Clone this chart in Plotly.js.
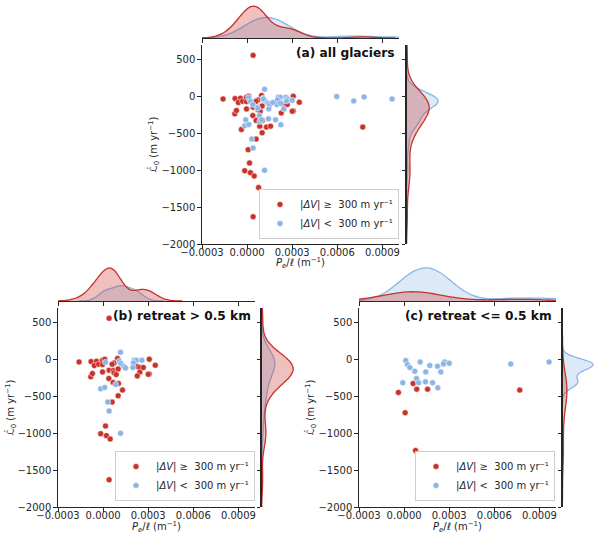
<!DOCTYPE html>
<html>
<head>
<meta charset="utf-8">
<script src="https://cdn.plot.ly/plotly-3.0.1.min.js"></script>
<style>html,body{margin:0;padding:0;background:#fff}</style>
</head>
<body>
<div id="chart" style="width:600px;height:543px"></div>
<script>
// (b) retreat > 0.5 km
const bRedX = [0.00004, -0.00016, -0.00008, -0.000044, -0.000058, -0.00003, -0.000004, 0.000011, -0.000004,
  -0.000082, -0.000071, -0.000004, 0.00004, 0.000067, 0.000038, 0.000073, 0.000096, 0.000073, 0.00006,
  0.000087, 0.0001, 0.000102, 0.000067, 0.000129, 0.0001, 0.00006, 0.000016, -0.000016, 0.000022, 0.000047,
  0.00004, 0.000222, 0.000244, 0.000267, 0.000244, 0.000227, 0.000307, 0.000347, 0.000307, 0.0003]
const bRedY = [560, -32, -27, -23, -81, -63, -9, 5, -68,
  -234, -189, -167, -144, -149, -257, -180, 14, -45, -63,
  -203, -126, -324, -311, -414, -491, -577, -901, -1005, -1032, -1077,
  -1631, -90, -108, -108, -171, -221, 5, -77, -194, -200]
const bBlueX = [0.000116, 0.000107, 0.000118, 0.000138, 0.000149, 0.000207, 0.000222, 0.000258, 0.000202,
  0.000198, -0.000016, 0.000011, 0.000084, 0.000031, 0.00004, 0.000116, 0.000016]
const bBlueY = [99, -23, -54, -90, -113, -9, -9, -9, -45,
  -108, -396, -378, -338, -577, -698, -1000, -36]

// (c) retreat <= 0.5 km
const cRedX = [-0.000038, 0.000007, 0.00006, 0.000084, 0.000156, 0.000076, 0.000769]
const cRedY = [-446, -721, -324, -401, -401, -1234, -414]
const cBlueX = [0.000011, 0.000022, 0.000038, 0.000107, 0.000071, 0.000171, 0.000144, 0.000082, 0.000096,
  -0.000009, 0.000142, 0.000189, 0.000222, 0.000269, 0.000262, 0.0003, 0.000244, 0.000224, 0.000709, 0.000964]
const cBlueY = [-14, -68, -108, -32, -158, -81, -167, -257, -315,
  -315, -302, -315, -90, -32, -59, -50, -167, -383, -59, -32]

// glaciers only in (a)
const aExtraBlueX = [0.000596, 0.000778]
const aExtraBlueY = [0, -5]

const xTicks = [-0.0003, 0, 0.0003, 0.0006, 0.0009]
const yTicks = [-2000, -1500, -1000, -500, 0, 500]
const redLabel = "|<i>ΔV</i>| ≥\u00a0 300 m yr⁻¹"
const blueLabel = "|<i>ΔV</i>| <\u00a0 300 m yr⁻¹"

const RED = "#c8322b"
const BLUE = "#8cb5e5"
const RED_FILL = "rgba(200,50,43,0.3)"
const BLUE_FILL = "rgba(140,181,229,0.3)"
const INK = "#262626"
const FONT = "DejaVu Sans"
const W = 600, H = 543
const XRANGE = [-0.0003, 0.00101]
const YRANGE = [-2000, 700]
const HALF = 0.5 // one-sided violin half width (data units) with violingap 0

const px = (p) => p / W
const py = (p) => 1 - p / H

const panels = [
  { title: "(a) all glaciers", red: [bRedX.concat(cRedX), bRedY.concat(cRedY)],
    blue: [bBlueX.concat(cBlueX, aExtraBlueX), bBlueY.concat(cBlueY, aExtraBlueY)],
    box: [202, 399, 45, 244], top: [0, 38], right: [406.5, 445.5], legend: "legend", leg: [259, 239],
    ytitleX: 154, xtitleY: 263, topFrac: 0.84, rightFrac: 0.81 },
  { title: "(b) retreat > 0.5 km", red: [bRedX, bRedY], blue: [bBlueX, bBlueY],
    box: [58, 255, 308, 507], top: [263, 301], right: [261.5, 300.5], legend: "legend2", leg: [115, 501],
    ytitleX: 11, xtitleY: 527, topFrac: 0.87, rightFrac: 0.81 },
  { title: "(c) retreat <= 0.5 km", red: [cRedX, cRedY], blue: [cBlueX, cBlueY],
    box: [359, 556, 308, 507], top: [263, 301], right: [562.5, 600], legend: "legend3", leg: [415, 501],
    ytitleX: 311, xtitleY: 527, topFrac: 0.87, rightFrac: 0.78 },
]

function scottBw(v) {
  const n = v.length
  const m = v.reduce((s, a) => s + a, 0) / n
  const sd = Math.sqrt(v.reduce((s, a) => s + (a - m) ** 2, 0) / (n - 1))
  return sd * Math.pow(n, -0.2)
}

// peak of the gaussian density, only used to size the marginal axes
function kdePeak(v) {
  const bw = scottBw(v)
  const lo = Math.min(...v) - 3 * bw, hi = Math.max(...v) + 3 * bw
  let best = 0
  for (let k = 0; k <= 500; k++) {
    const x = lo + (hi - lo) * k / 500
    let s = 0
    for (const a of v) { const u = (x - a) / bw; s += Math.exp(-0.5 * u * u) }
    best = Math.max(best, s / (v.length * bw * Math.sqrt(2 * Math.PI)))
  }
  return best
}

// tallest drawn curve (fraction of HALF) for violins scaled by count in one group
function tallest(sets) {
  const m = sets.map(kdePeak)
  const n = sets.map((v) => v.length)
  return Math.max(...m.map((mi, i) => mi * n[i])) / (Math.max(...m) * Math.max(...n))
}

function kde(vals, color, fill, axX, axY, horizontal, group) {
  const bw = scottBw(vals)
  const lo = Math.min(...vals) - 3 * bw
  const hi = Math.max(...vals) + 3 * bw
  const t = {
    type: "violin", side: "positive", points: false,
    box: { visible: false }, meanline: { visible: false },
    line: { color: color, width: 1.3 }, fillcolor: fill,
    bandwidth: bw, spanmode: "manual", span: [lo, hi],
    scalemode: "count", scalegroup: group,
    xaxis: axX, yaxis: axY, showlegend: false, hoverinfo: "skip",
  }
  if (horizontal) { t.orientation = "h"; t.x = vals; t.y0 = 0 }
  else { t.orientation = "v"; t.y = vals; t.x0 = 0 }
  return t
}

const data = []
const layout = {
  width: W, height: H, margin: { l: 0, r: 0, t: 0, b: 0 },
  paper_bgcolor: "#fff", plot_bgcolor: "rgba(0,0,0,0)",
  font: { family: FONT, size: 10, color: INK },
  violinmode: "overlay", violingap: 0, violingroupgap: 0,
  annotations: [],
}

const lineAxis = { showline: true, linecolor: INK, linewidth: 1.2, ticks: "outside", ticklen: 3.5,
  tickcolor: INK, tickwidth: 1, showgrid: false, zeroline: false, tickfont: { size: 10, color: INK } }

panels.forEach((p, i) => {
  const n = i + 1, nt = i + 4, nr = i + 7
  const [l, r, t, b] = p.box
  const xd = [px(l), px(r)], yd = [py(b), py(t)]
  const rightW = p.right[1] - p.right[0]
  const topMax = HALF * tallest([p.red[0], p.blue[0]]) / p.topFrac
  const rightMax = HALF * tallest([p.red[1], p.blue[1]]) / p.rightFrac * rightW / 39

  layout["xaxis" + n] = Object.assign({}, lineAxis, { domain: xd, range: XRANGE, anchor: "y" + n,
    tickvals: xTicks, tickformat: ".4f", ticklabelstandoff: -5 })
  layout["yaxis" + n] = Object.assign({}, lineAxis, { domain: yd, range: YRANGE, anchor: "x" + n,
    tickvals: yTicks })
  layout["xaxis" + nt] = Object.assign({}, lineAxis, { domain: xd, range: XRANGE, anchor: "y" + nt,
    tickvals: xTicks, showticklabels: false })
  layout["yaxis" + nt] = { domain: [py(p.top[1]), py(p.top[0])], range: [0, topMax], anchor: "x" + nt,
    visible: false, type: "linear" }
  layout["xaxis" + nr] = { domain: [px(p.right[0]), px(p.right[1])], range: [0, rightMax],
    anchor: "y" + nr, visible: false, type: "linear" }
  layout["yaxis" + nr] = Object.assign({}, lineAxis, { domain: yd, range: YRANGE, anchor: "x" + nr,
    tickvals: yTicks, showticklabels: false })

  data.push({ type: "scatter", mode: "markers", x: p.red[0], y: p.red[1], name: redLabel,
    xaxis: "x" + n, yaxis: "y" + n, legend: p.legend,
    marker: { color: RED, size: 6, line: { color: "#fff", width: 0.5 } } })
  data.push({ type: "scatter", mode: "markers", x: p.blue[0], y: p.blue[1], name: blueLabel,
    xaxis: "x" + n, yaxis: "y" + n, legend: p.legend,
    marker: { color: BLUE, size: 6, line: { color: "#fff", width: 0.5 } } })

  data.push(kde(p.blue[0], BLUE, BLUE_FILL, "x" + nt, "y" + nt, true, "top" + n))
  data.push(kde(p.red[0], RED, RED_FILL, "x" + nt, "y" + nt, true, "top" + n))
  data.push(kde(p.blue[1], BLUE, BLUE_FILL, "x" + nr, "y" + nr, false, "right" + n))
  data.push(kde(p.red[1], RED, RED_FILL, "x" + nr, "y" + nr, false, "right" + n))

  layout[p.legend] = { x: px(p.leg[0]), y: py(p.leg[1]), xanchor: "left", yanchor: "bottom",
    bgcolor: "#fff", bordercolor: "#cccccc", borderwidth: 1, font: { size: 10, color: INK },
    itemwidth: 30, tracegroupgap: 0 }

  layout.annotations.push({ text: "<b>" + p.title.replace(/</g, "&lt;").replace(/>/g, "&gt;") + "</b>",
    xref: "paper", yref: "paper", x: px(r - 2), y: py(t + 8), xanchor: "right", yanchor: "middle",
    showarrow: false, font: { size: 12.2, color: "#111" } })
  layout.annotations.push({ text: "<i>P<sub>e</sub></i>/<i>ℓ</i> (m<sup>−1</sup>)",
    xref: "paper", yref: "paper", x: px((l + r) / 2), y: py(p.xtitleY), xanchor: "center", yanchor: "middle",
    showarrow: false, font: { size: 10, color: INK } })
  layout.annotations.push({ text: "<i>ℒ̇</i><sub>0</sub> (m yr<sup>−1</sup>)", textangle: -90,
    xref: "paper", yref: "paper", x: px(p.ytitleX), y: py((t + b) / 2), xanchor: "center", yanchor: "middle",
    showarrow: false, font: { size: 10, color: INK } })
})

Plotly.newPlot("chart", data, layout, { staticPlot: true })
</script>
</body>
</html>
